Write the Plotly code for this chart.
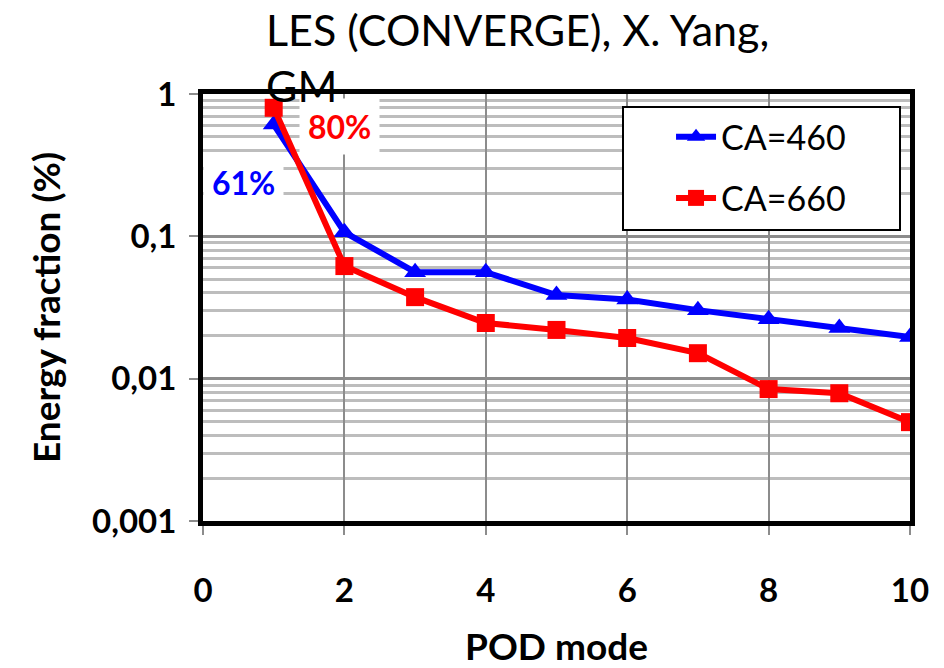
import plotly.graph_objects as go

modes = [1, 2, 3, 4, 5, 6, 7, 8, 9, 10]
ca460 = [0.61, 0.107, 0.056, 0.056, 0.0387, 0.036, 0.0303, 0.0262, 0.0227, 0.0196]
ca660 = [0.80, 0.0618, 0.0374, 0.0246, 0.022, 0.0193, 0.0151, 0.00845, 0.0079, 0.00495]
ytick_vals = [0.001, 0.01, 0.1, 1]
ytick_text = ["0,001", "0,01", "0,1", "1"]
xtick_vals = [0, 2, 4, 6, 8, 10]

FONT = "Lato"

fig = go.Figure()
fig.add_trace(go.Scatter(
    x=modes, y=ca460, name="CA=460", mode="lines+markers",
    line=dict(color="#0000ff", width=6),
    marker=dict(symbol="triangle-up", size=19, color="#0000ff"),
    legendgroup="a",
))
fig.add_trace(go.Scatter(
    x=modes, y=ca660, name="CA=660", mode="lines+markers",
    line=dict(color="#ff0000", width=6),
    marker=dict(symbol="square", size=18, color="#ff0000"),
    legendgroup="b",
))

fig.update_layout(
    width=944, height=668,
    margin=dict(l=203, r=34, t=94, b=147),
    paper_bgcolor="white", plot_bgcolor="white",
    font=dict(family=FONT, color="black"),
    showlegend=True,
    legend=dict(
        x=0.662, y=0.967, xanchor="left", yanchor="top",
        bgcolor="rgba(0,0,0,0)", borderwidth=0,
        font=dict(family=FONT, size=34, color="black"),
        tracegroupgap=14,
        itemwidth=40,
    ),
)

# legend frame
fig.add_shape(
    type="rect", xref="paper", yref="paper",
    x0=(623 - 203) / 707, x1=(900 - 203) / 707,
    y0=1 - (230 - 94) / 427, y1=1 - (107 - 94) / 427,
    fillcolor="white", line=dict(color="black", width=2), layer="above",
)

fig.update_xaxes(
    range=[0, 10], tickvals=xtick_vals, automargin=False,
    showgrid=True, gridcolor="#8c8c8c", gridwidth=2,
    showline=True, linecolor="black", linewidth=5, mirror=True,
    ticks="outside", ticklen=9, tickwidth=2, tickcolor="#8c8c8c",
    ticklabelstandoff=27,
    tickfont=dict(family=FONT, size=33, color="black", weight="bold"),
    title=dict(text="POD mode", font=dict(family=FONT, size=37, color="black", weight="bold"), standoff=32),
    zeroline=False,
)
fig.update_yaxes(
    type="log", range=[-3, 0], tickvals=ytick_vals, ticktext=ytick_text, automargin=False,
    showgrid=True, gridcolor="#8c8c8c", gridwidth=3,
    minor=dict(dtick="D1", showgrid=True, gridcolor="#bdbdbd", gridwidth=3, ticks=""),
    showline=True, linecolor="black", linewidth=5, mirror=True,
    ticks="outside", ticklen=9, tickwidth=2, tickcolor="#8c8c8c",
    ticklabelstandoff=6,
    tickfont=dict(family=FONT, size=33, color="black", weight="bold"),
    title=dict(text="Energy fraction (%)", font=dict(family=FONT, size=37, color="black", weight="bold"), standoff=22),
)

fig.add_annotation(
    x=0.566, y=-0.625, xref="x", yref="y", text="<b>61%</b>", showarrow=False,
    font=dict(family=FONT, size=32, color="#0000ff"), bgcolor="white", borderpad=8,
)
fig.add_annotation(
    x=1.93, y=-0.228, xref="x", yref="y", text="<b>80%</b>", showarrow=False,
    font=dict(family=FONT, size=32, color="#ff0000"), bgcolor="white", borderpad=8,
)
fig.add_annotation(
    x=(264 - 203) / 707, y=1 + (94 - 2) / 427, xref="paper", yref="paper",
    xanchor="left", yanchor="top",
    text="LES (CONVERGE), X. Yang,<br>GM", showarrow=False, align="left",
    font=dict(family=FONT, size=43, color="black"),
)

fig.write_html("out.html")
